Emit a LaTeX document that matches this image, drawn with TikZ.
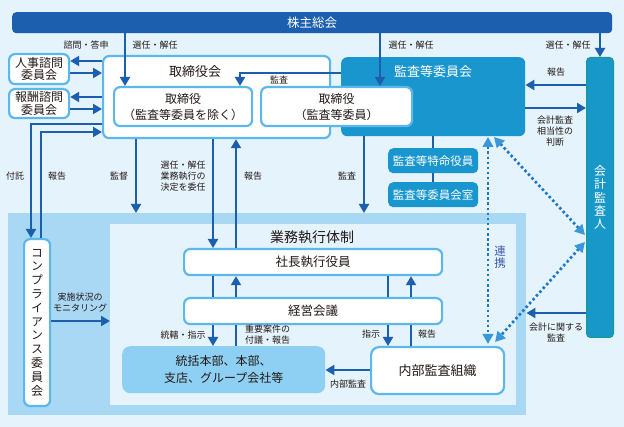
\documentclass[tikz,border=0pt]{standalone}
\usepackage{fontspec}
\setmainfont{Noto Sans CJK JP}
\newfontfamily\vjp[RawFeature=+vert]{Noto Sans CJK JP}
\usetikzlibrary{arrows.meta,calc}
\definecolor{bg}{HTML}{E4F3FC}
\definecolor{outerc}{HTML}{A9D8F4}
\definecolor{dk}{HTML}{1C5FAE}
\definecolor{lb}{HTML}{5CB8EA}
\definecolor{mb}{HTML}{1A96CE}
\definecolor{kk}{HTML}{1898C8}
\definecolor{kkb}{HTML}{17998E}
\definecolor{lt}{HTML}{8ED0F3}
\definecolor{dc}{HTML}{1E78C8}
\definecolor{dh}{HTML}{3A98DA}
\definecolor{rk}{HTML}{3F5AA8}
\definecolor{txt}{HTML}{231815}
\begin{document}
\begin{tikzpicture}[x=1pt,y=-1pt,
  arr/.style={draw=dk, line width=2pt, -{Triangle[width=10pt,length=9pt]}},
  ln/.style={draw=dk, line width=2pt},
  wbox/.style={draw=lb, line width=2.2pt, fill=white, rounded corners=6pt, align=center, inner sep=0pt, anchor=north west, text=txt, font=\fontsize{12.5}{16}\selectfont},
  bbox/.style={fill=mb, rounded corners=5pt, text=white, align=center, inner sep=0pt, anchor=north west, font=\fontsize{11.5}{14}\selectfont},
  lbl/.style={font=\fontsize{9}{11}\selectfont, align=center, inner sep=0pt, text=txt},
  dotl/.style={draw=dc, line width=2.7pt, dash pattern=on 2.5pt off 2.6pt, {Triangle[width=10.5pt,length=10pt,color=dh]}-{Triangle[width=10.5pt,length=10pt,color=dh]}}
]
\fill[bg] (0,0) rectangle (624,427);
\useasboundingbox (0,0) rectangle (624,427);

% regions
\node[fill=outerc, minimum width=518pt, minimum height=202pt, inner sep=0pt, anchor=north west] (outer) at (8,213) {};
\node[fill=bg, minimum width=406pt, minimum height=181pt, inner sep=0pt, anchor=north west] (inner) at (110,224) {};

% top bar
\node[fill=dk, rounded corners=4pt, minimum width=600pt, minimum height=21pt, inner sep=0pt, anchor=north west, text=white, font=\fontsize{12.5}{14}\selectfont] (kabu) at (12,12) {株主総会};

% left committees
\node[wbox, minimum width=60pt, minimum height=30pt, font=\fontsize{12}{12.5}\selectfont] (jinji) at (8,53) {人事諮問\\委員会};
\node[wbox, minimum width=60pt, minimum height=29pt, font=\fontsize{12}{12.5}\selectfont] (hoshu) at (8,88) {報酬諮問\\委員会};

% board
\node[wbox, minimum width=227pt, minimum height=82pt] (tk) at (102,55) {};
\node[text=txt, font=\fontsize{13}{15}\selectfont, inner sep=0pt] (tktitle) at (195,72) {取締役会};

% audit committee
\node[bbox, minimum width=184pt, minimum height=79pt, rounded corners=6pt] (kansa) at (341,57) {};
\node[text=white, font=\fontsize{13}{15}\selectfont, inner sep=0pt] (kansatitle) at (433,72) {監査等委員会};

\node[wbox, minimum width=138pt, minimum height=39pt, font=\fontsize{12}{16}\selectfont] (tb1) at (113,86) {取締役\\（監査等委員を除く）};
\node[wbox, minimum width=151pt, minimum height=39pt, font=\fontsize{12}{16}\selectfont] (tb2) at (260,86) {取締役\\（監査等委員）};

\node[bbox, minimum width=90pt, minimum height=25pt] (tokumei) at (388,148) {監査等特命役員};
\node[bbox, minimum width=90pt, minimum height=25pt] (shitsu) at (388,182) {監査等委員会室};

% accounting auditor
\node[fill=kk, draw=kkb, line width=1pt, rounded corners=4pt, minimum width=27pt, minimum height=280pt, inner sep=0pt, anchor=north west, text=white, align=center, font=\vjp\fontsize{12}{13.4}\selectfont] (kaikei) at (586,57) {会\\計\\監\\査\\人};

% compliance
\node[wbox, minimum width=26pt, minimum height=167pt, font=\vjp\fontsize{12}{13.8}\selectfont] (comp) at (23,238) {コ\\ン\\プ\\ラ\\イ\\ア\\ン\\ス\\委\\員\\会};

% execution
\node[text=txt, font=\fontsize{14}{16}\selectfont, inner sep=0pt] (gyomu) at (312,237) {業務執行体制};
\node[wbox, minimum width=258pt, minimum height=26pt] (shacho) at (183,248) {社長執行役員};
\node[wbox, minimum width=258pt, minimum height=26pt] (keiei) at (183,297) {経営会議};
\node[fill=lt, rounded corners=8pt, minimum width=203pt, minimum height=47pt, inner sep=0pt, anchor=north west, align=center, text=txt, font=\fontsize{12}{17}\selectfont] (tokatsu) at (122,346) {統括本部、本部、\\支店、グループ会社等};
\node[wbox, minimum width=133pt, minimum height=47pt, rounded corners=8pt, font=\fontsize{13}{15}\selectfont] (naibu) at (370,346) {内部監査組織};

% connectors: shareholders
\draw[arr] (125,0 |- kabu.south) -- (125,0 |- tb1.north);
\draw[arr] (380,0 |- kabu.south) -- (380,0 |- tb2.north);
\draw[arr] (kaikei.north |- kabu.south) -- (kaikei.north);
\node[lbl] (l1) at (155,45) {選任・解任};
\node[lbl] (l2) at (411,45) {選任・解任};
\node[lbl] (l3) at (568,45) {選任・解任};
\node[lbl] (l4) at (86,45) {諮問・答申};

% committees
\draw[arr] (0,61 -| tk.west) -- (0,61 -| jinji.east);
\draw[arr] (0,73 -| jinji.east) -- (0,73 -| tk.west);
\draw[arr] (0,97 -| tk.west) -- (0,97 -| hoshu.east);
\draw[arr] (0,109 -| hoshu.east) -- (0,109 -| tk.west);

% audit to board
\draw[arr] (0,73 -| kansa.west) -- (240,73) -- (240,0 |- tb1.north);
\node[lbl] (l5) at (279,80) {監査};

% compliance
\draw[arr] (0,124 -| tk.west) -| (31,0 |- comp.north);
\draw[arr] (41,0 |- comp.north) |- (0,132 -| tk.west);
\node[lbl] (l6) at (15,176) {付託};
\node[lbl] (l7) at (57,176) {報告};
\draw[arr] (0,321 -| comp.east) -- (0,321 -| inner.west);
\node[lbl] (l8) at (80,303) {実施状況の\\モニタリング};

% board down
\draw[arr] (136,0 |- tk.south) -- (136,0 |- outer.north);
\node[lbl] (l9) at (119,176) {監督};
\draw[arr] (213,0 |- tk.south) -- (213,0 |- shacho.north);
\node[lbl] (l10) at (183,176) {選任・解任\\業務執行の\\決定を委任};
\draw[arr] (236,0 |- shacho.north) -- (236,0 |- tk.south);
\node[lbl] (l11) at (253,176) {報告};
\draw[arr] (364,0 |- kansa.south) -- (364,0 |- outer.north);
\node[lbl] (l12) at (347,176) {監査};

% audit committee staff
\draw[draw=dk, line width=1.6pt] (433,0 |- kansa.south) -- (433,0 |- tokumei.north);
\draw[draw=dk, line width=1.6pt] (433,0 |- tokumei.south) -- (433,0 |- shitsu.north);

% accounting auditor links
\draw[arr] (0,85 -| kaikei.west) -- (0,85 -| kansa.east);
\node[lbl] (l13) at (556,72) {報告};
\draw[arr] (0,108 -| kansa.east) -- (0,108 -| kaikei.west);
\node[lbl] (l14) at (555,131) {会計監査\\相当性の\\判断};
\draw[arr] (0,313 -| kaikei.west) -- (0,313 -| outer.east);
\node[lbl] (l15) at (556,332.5) {会計に関する\\監査};

% execution internal
\draw[ln] (213,0 |- shacho.south) -- (213,0 |- keiei.north);
\draw[arr] (213,0 |- keiei.south) -- (213,0 |- tokatsu.north);
\draw[ln] (236,0 |- tokatsu.north) -- (236,0 |- keiei.south);
\draw[arr] (236,0 |- keiei.north) -- (236,0 |- shacho.south);
\draw[ln] (388,0 |- shacho.south) -- (388,0 |- keiei.north);
\draw[arr] (388,0 |- keiei.south) -- (388,0 |- naibu.north);
\draw[ln] (411,0 |- naibu.north) -- (411,0 |- keiei.south);
\draw[arr] (411,0 |- keiei.north) -- (411,0 |- shacho.south);
\node[lbl] (l16) at (183,335) {統轄・指示};
\node[lbl, anchor=west, align=left] (l17) at (245,334.5) {重要案件の\\付議・報告};
\node[lbl] (l18) at (371,334) {指示};
\node[lbl] (l19) at (427,334) {報告};
\draw[arr] (0,370 -| naibu.west) -- (0,370 -| tokatsu.east);
\node[lbl] (l20) at (348,384) {内部監査};

% cooperation (dotted)
\coordinate (c1) at (488,137);
\coordinate (c2) at (488,344);
\coordinate (c3) at (494,137);
\coordinate (c4) at (585,235);
\coordinate (c5) at (585,242);
\coordinate (c6) at (495,342);
\draw[dotl] (c1) -- (c2);
\draw[dotl] (c3) -- (c4);
\draw[dotl] (c5) -- (c6);
\node[text=rk, align=center, inner sep=0pt, font=\vjp\fontsize{11.5}{12}\selectfont] (renkei) at (500,257) {連\\携};
\end{tikzpicture}
\end{document}
